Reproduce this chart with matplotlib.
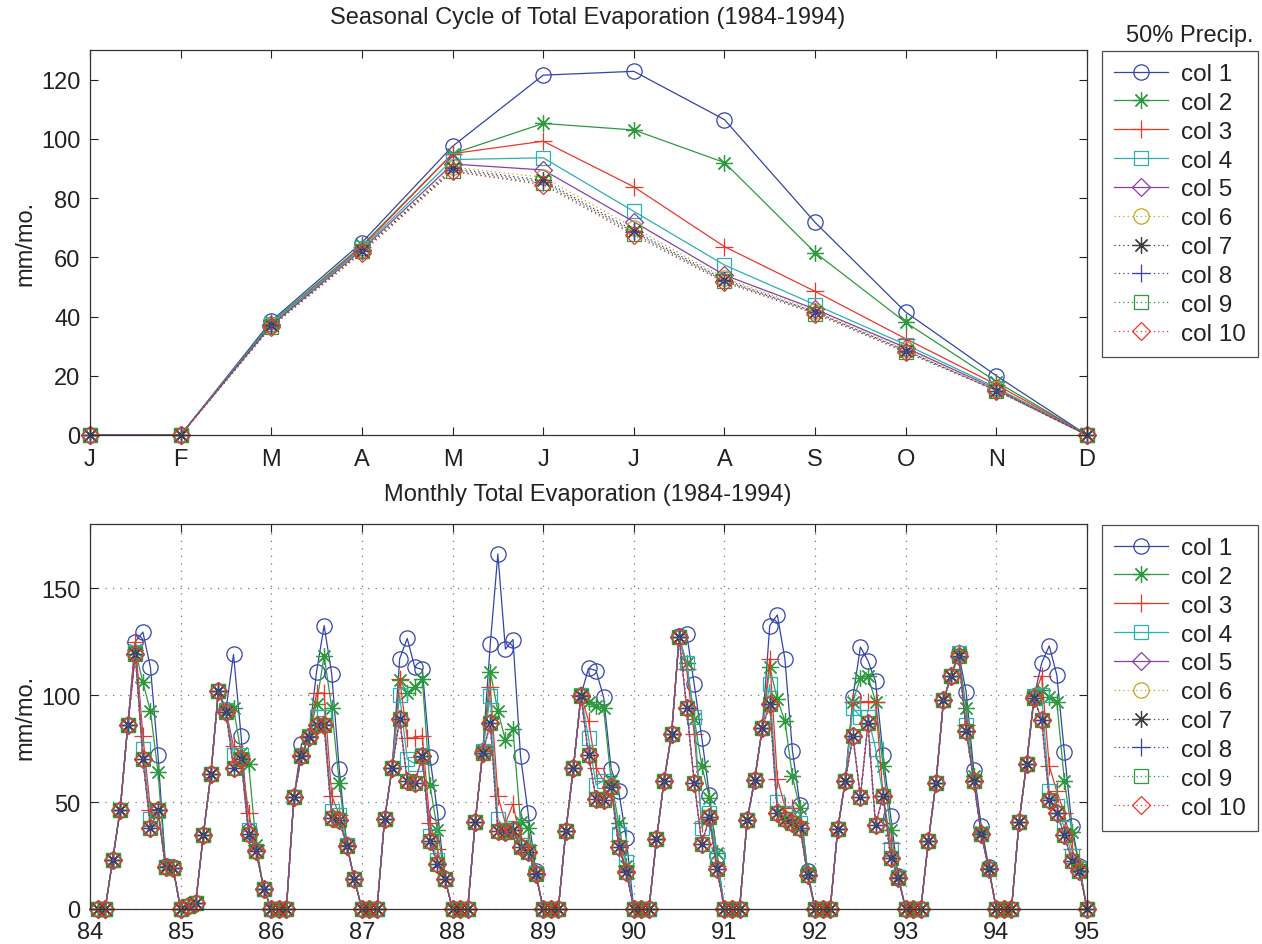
import numpy as np
import matplotlib
matplotlib.use("Agg")
import matplotlib.pyplot as plt

plt.rcParams['font.family'] = ['Liberation Sans', 'DejaVu Sans']

# ---------------- data ----------------
month_labels = ['J', 'F', 'M', 'A', 'M', 'J', 'J', 'A', 'S', 'O', 'N', 'D']
series_names = ['col 1', 'col 2', 'col 3', 'col 4', 'col 5',
                'col 6', 'col 7', 'col 8', 'col 9', 'col 10']

# Seasonal cycle (mm/mo.), one value per calendar month
seas_col1 = [0, 0, 38.5, 65, 97.5, 121.5, 122.8, 106.5, 71.8, 41.5, 20, 0]
seas_col2 = [0, 0, 38, 64, 95, 105.2, 103, 92, 61.6, 38, 18, 0]
seas_col3 = [0, 0, 37.5, 63.5, 95, 99.2, 83.8, 63.6, 48.5, 32.5, 17, 0]
seas_col4 = [0, 0, 37.5, 63, 93, 93.6, 75.5, 57.4, 44, 30.5, 16, 0]
seas_col5 = [0, 0, 37, 62.5, 91.5, 89.5, 72, 54, 42.5, 29.5, 15.5, 0]
seas_col6 = [0, 0, 37, 62.5, 90.5, 87, 70, 53, 42, 29, 15.5, 0]
seas_col7 = [0, 0, 37, 62, 90, 86, 69, 52.5, 41.5, 28.5, 15, 0]
seas_col8 = [0, 0, 37, 62, 89.5, 85.5, 68.5, 52, 41.5, 28.5, 15, 0]
seas_col9 = [0, 0, 36.5, 62, 89, 85, 68, 52, 41, 28, 15, 0]
seas_col10 = [0, 0, 36.5, 61.5, 89, 84.5, 67.5, 51.5, 41, 28, 15, 0]

# Monthly totals 1984-1994 (mm/mo.), 12 values per year
mon_col1 = [
    0, 0, 23, 46.5, 86, 125, 129.5, 113, 72, 20, 19.5, 0,
    1.5, 3, 34.5, 63, 102, 93, 119, 81, 36.5, 27, 9.5, 0,
    0, 0, 52.5, 77, 81, 111, 132.5, 110, 65.5, 30, 14, 0,
    0, 0, 42, 66, 117, 126.5, 113, 112, 71, 45.5, 14, 0,
    0, 0, 40.5, 74, 124, 166, 121.5, 126, 71.5, 45, 18, 0,
    0, 0, 36.5, 66, 100, 112.5, 111.5, 99, 65.5, 55, 33, 0,
    0, 0, 32.5, 60, 82, 127.5, 128.5, 105, 80, 53.5, 25, 0,
    0, 0, 41.5, 60.5, 84.5, 132.5, 137.5, 117, 74, 48.5, 18, 0,
    0, 0, 37.5, 60, 99, 122.5, 116, 106.5, 72, 43.5, 15.5, 0,
    0, 0, 32, 59, 97.5, 109, 119.5, 101.5, 65, 39, 19.5, 0,
    0, 0, 40.5, 68, 99.5, 115, 123, 109.5, 73.5, 39, 20, 0]
mon_col2 = [
    0, 0, 23, 46.5, 86, 121, 106, 92.5, 64, 20, 19, 0,
    1.5, 3, 34.5, 63, 102, 93, 94, 73, 68, 30, 9.5, 0,
    0, 0, 52.5, 72, 81, 96, 118.5, 94, 59, 30, 14, 0,
    0, 0, 42, 66, 107, 101, 104, 107.5, 58, 37, 14, 0,
    0, 0, 40.5, 74, 111, 92.5, 79, 84, 40.5, 38, 17, 0,
    0, 0, 36.5, 66, 100, 97, 95, 94, 60, 40, 20, 0,
    0, 0, 32.5, 60, 82, 127, 115, 89, 67, 52, 26, 0,
    0, 0, 41.5, 60.5, 84.5, 113, 98, 88, 62, 47, 18, 0,
    0, 0, 37.5, 60, 97, 108, 109, 97, 67, 37, 15, 0,
    0, 0, 32, 59, 97.5, 109, 119.5, 94, 62, 36, 19, 0,
    0, 0, 40.5, 68, 99.5, 102.5, 99, 97, 60, 36, 20, 0]
mon_col3 = [
    0, 0, 23, 46.5, 86, 125, 81, 46.5, 46.5, 19.5, 19, 0,
    1.5, 3, 34.5, 63, 102, 93, 76, 72, 45, 28, 9.5, 0,
    0, 0, 52.5, 72, 81, 101, 101, 53, 44, 30, 14, 0,
    0, 0, 42, 66, 107.5, 80, 80, 81, 40, 28, 14, 0,
    0, 0, 40.5, 74, 104, 53, 40, 49, 33, 30, 17, 0,
    0, 0, 36.5, 66, 100, 88, 66, 60, 57, 32, 18, 0,
    0, 0, 32.5, 60, 82, 127, 112, 82, 40, 42, 20, 0,
    0, 0, 41.5, 60.5, 84.5, 117, 61, 48, 47, 40, 16, 0,
    0, 0, 37.5, 60, 97, 97, 97, 97, 53, 31, 15, 0,
    0, 0, 32, 59, 97.5, 109, 119.5, 86, 60, 35, 18.5, 0,
    0, 0, 40.5, 68, 99.5, 109, 67, 55, 45, 28, 19, 0]
mon_col4 = [
    0, 0, 23, 46.5, 86, 120, 75, 42, 46, 19.5, 19, 0,
    1.5, 3, 34.5, 63, 102, 93, 72, 72, 37, 27, 9.5, 0,
    0, 0, 52.5, 72, 81, 90, 90, 46, 44, 30, 14, 0,
    0, 0, 42, 66, 100, 70, 68, 72, 34, 23, 14, 0,
    0, 0, 40.5, 74, 99.5, 42, 37, 38, 30, 27, 17, 0,
    0, 0, 36.5, 66, 100, 80, 58, 60, 57, 35, 22, 0,
    0, 0, 32.5, 60, 82, 127, 115, 90, 38, 45, 24, 0,
    0, 0, 41.5, 60.5, 84.5, 105, 50, 45, 42, 40, 16, 0,
    0, 0, 37.5, 60, 94, 90, 90, 75, 53, 28, 15, 0,
    0, 0, 32, 59, 97.5, 109, 119.5, 86, 60, 35, 18.5, 0,
    0, 0, 40.5, 68, 99.5, 100, 55, 48, 38, 25, 19, 0]
# cols 5-10 lie on top of each other in the monthly panel
mon_cols5to10 = [
    0, 0, 23, 46.5, 86, 119, 70, 38, 46.5, 19.5, 19, 0,
    1.5, 3, 34.5, 63, 102, 92, 66, 70, 35, 27, 9.5, 0,
    0, 0, 52.5, 71.5, 80.5, 86, 86, 42.5, 41.5, 29.5, 14, 0,
    0, 0, 42, 66, 89, 60, 59, 71.5, 32, 21, 14, 0,
    0, 0, 40.5, 73, 87, 36.5, 36, 37, 29, 26.5, 16.5, 0,
    0, 0, 36.5, 66, 99.5, 72, 51.5, 51, 57, 29, 17.5, 0,
    0, 0, 32.5, 60, 82, 127, 94, 59, 30.5, 43, 18.5, 0,
    0, 0, 41.5, 60.5, 84.5, 96, 45, 42, 40, 38, 16, 0,
    0, 0, 37.5, 60, 81, 52.5, 87, 39.5, 53, 24, 14.5, 0,
    0, 0, 32, 59, 97.5, 109, 118.5, 83, 60, 35, 18.5, 0,
    0, 0, 40.5, 68, 98.5, 88.5, 51, 45, 34.5, 22.5, 18, 0]
year_ticks = [84, 85, 86, 87, 88, 89, 90, 91, 92, 93, 94, 95]

seasonal = [seas_col1, seas_col2, seas_col3, seas_col4, seas_col5,
            seas_col6, seas_col7, seas_col8, seas_col9, seas_col10]
monthly = [mon_col1, mon_col2, mon_col3, mon_col4, mon_cols5to10,
           mon_cols5to10, mon_cols5to10, mon_cols5to10, mon_cols5to10, mon_cols5to10]

# ---------------- styles ----------------
colors = ['#3344aa', '#2e9a3e', '#e8382a', '#2bb0b0', '#8a3fa8',
          '#c4a51c', '#404040', '#3344aa', '#2e9a3e', '#e8382a']
asterisk = (8, 2, 0)
markers = ['o', asterisk, '+', 's', 'D', 'o', asterisk, '+', 's', 'D']
msizes = [11, 12, 13, 10, 9, 11, 12, 13, 10, 9]
dotted = (0, (1, 2.5))
lstyles = ['-'] * 5 + [dotted] * 5

W, H = 1262, 945
fig = plt.figure(figsize=(W / 100, H / 100), dpi=100)
ax1 = fig.add_axes([90 / W, 1 - 436 / H, 997 / W, 385 / H])
ax2 = fig.add_axes([90 / W, 1 - 910 / H, 997 / W, 385 / H])

months = np.arange(1, 13)
for vals, c, m, ms, ls, name in zip(seasonal, colors, markers, msizes, lstyles, series_names):
    ax1.plot(months, vals, color=c, marker=m, markersize=ms, linestyle=ls,
             linewidth=0.9, markerfacecolor='none', markeredgewidth=0.9, label=name,
             clip_on=False)

tx = 84 + np.arange(1, 133) / 12.0
for vals, c, m, ms, ls, name in zip(monthly, colors, markers, msizes, lstyles, series_names):
    ax2.plot(tx, vals, color=c, marker=m, markersize=ms, linestyle=ls,
             linewidth=0.9, markerfacecolor='none', markeredgewidth=0.9, label=name,
             clip_on=False)

tick_fs = 17
for ax in (ax1, ax2):
    ax.tick_params(direction='in', length=6, width=0.8, top=True, right=True,
                   labelsize=tick_fs, colors='#222222')
    ax.tick_params(axis='x', pad=9)
    ax.tick_params(axis='y', pad=7)
    for sp in ax.spines.values():
        sp.set_color('#333333')
        sp.set_linewidth(0.9)

ax1.set_xlim(1, 12)
ax1.set_ylim(0, 130)
ax1.set_xticks(months)
ax1.set_xticklabels(month_labels)
ax1.set_yticks([0, 20, 40, 60, 80, 100, 120])

ax2.set_xlim(84, 95)
ax2.set_ylim(0, 180)
ax2.set_xticks(year_ticks)
ax2.set_xticklabels([str(y) for y in year_ticks])
ax2.set_yticks([0, 50, 100, 150])
ax2.grid(True, color='#777777', linestyle=(0, (1, 5)), linewidth=0.9)

title_fs = 17
fig.text(588 / W, 1 - 18 / H, 'Seasonal Cycle of Total Evaporation (1984-1994)',
         ha='center', va='center', fontsize=title_fs, color='#222222')
fig.text(588 / W, 1 - 495 / H, 'Monthly Total Evaporation (1984-1994)',
         ha='center', va='center', fontsize=title_fs, color='#222222')
fig.text(1190 / W, 1 - 36 / H, '50% Precip.', ha='center', va='center',
         fontsize=title_fs, color='#222222')
for yc in (243, 717):
    fig.text(25 / W, 1 - yc / H, 'mm/mo.', ha='center', va='center', rotation=90,
             fontsize=17, color='#222222')

leg_kw = dict(loc='upper left', fontsize=17.5, frameon=True, fancybox=False,
              borderpad=0.5, labelspacing=0.28, handlelength=2.2, handletextpad=0.55,
              borderaxespad=0, numpoints=1)
for ax, top in ((ax1, 52), (ax2, 526)):
    lg = ax.legend(bbox_to_anchor=(1102 / W, 1 - top / H), bbox_transform=fig.transFigure, **leg_kw)
    lg.get_frame().set_edgecolor('#222222')
    lg.get_frame().set_linewidth(0.9)
    for t in lg.get_texts():
        t.set_color('#222222')

fig.savefig('out.png', dpi=100)
